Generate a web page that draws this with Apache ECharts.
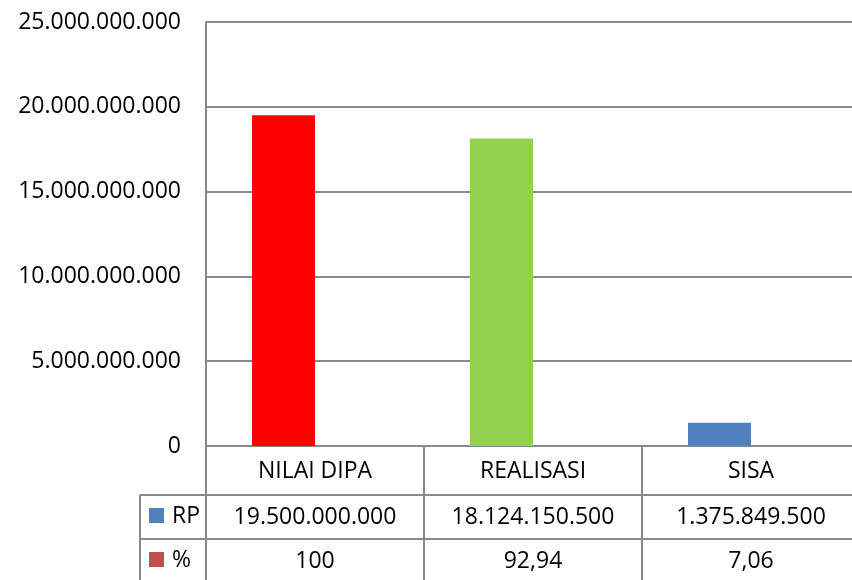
<!DOCTYPE html>
<html>
<head>
<meta charset="utf-8">
<script src="https://cdn.jsdelivr.net/npm/echarts@6/dist/echarts.min.js"></script>
<style>
  html, body { margin: 0; padding: 0; background: #fff; }
  #chart { width: 852px; height: 580px; }
</style>
</head>
<body>
<div id="chart"></div>
<script>
const categories = ['NILAI DIPA', 'REALISASI', 'SISA'];
const seriesNames = ['RP', '%'];
const rpValues = [19500000000, 18124150500, 1375849500];
const pctValues = [100, 92.94, 7.06];
const barColors = ['#FF0000', '#92D050', '#4F81BD'];
const seriesColors = ['#4F81BD', '#C0504D'];
const yTicks = { min: 0, max: 25000000000, interval: 5000000000 };

const LINE = '#898989';
const FONT = 'Open Sans';

// titik ribuan, koma desimal
const fmtRp = v => String(Math.round(v)).replace(/\B(?=(\d{3})+(?!\d))/g, '.');
const fmtPct = v => String(v).replace('.', ',');

const chart = echarts.init(document.getElementById('chart'));

// garis tabel data di bawah sumbu
const tableLines = [
  [140, 495, 852, 495],
  [140, 539, 852, 539],
  [140, 495, 140, 580]
].map(p => ({
  type: 'line',
  shape: { x1: p[0], y1: p[1], x2: p[2], y2: p[3] },
  style: { stroke: LINE, lineWidth: 2 },
  silent: true
}));

// kunci legenda di kolom kiri tabel
const rowHeaders = [];
seriesNames.forEach((name, i) => {
  const cy = 516 + i * 44;
  rowHeaders.push({
    type: 'rect',
    shape: { x: 149, y: cy - 8, width: 15, height: 15 },
    style: { fill: seriesColors[i] },
    silent: true
  });
  rowHeaders.push({
    type: 'text',
    x: 172,
    y: cy,
    style: { text: name, fontFamily: FONT, fontSize: 23, fill: '#000', verticalAlign: 'middle' },
    silent: true
  });
});

const labelStyle = { fontFamily: FONT, fontSize: 23, color: '#000' };

const tableAxis = (data, offset) => ({
  type: 'category',
  gridIndex: 0,
  position: 'bottom',
  offset: offset,
  data: data,
  axisLine: { show: false },
  axisTick: { show: false },
  axisLabel: Object.assign({ margin: 22, verticalAlign: 'middle', interval: 0 }, labelStyle)
});

chart.setOption({
  animation: false,
  textStyle: { fontFamily: FONT },
  grid: { left: 206, top: 22, width: 654, bottom: 134, containLabel: false, outerBoundsMode: 'none' },
  xAxis: [
    {
      type: 'category',
      data: categories,
      axisLine: { lineStyle: { color: LINE, width: 2 } },
      axisTick: { show: true, length: 140, lineStyle: { color: LINE, width: 2 } },
      axisLabel: Object.assign({ margin: 25, verticalAlign: 'middle', interval: 0 }, labelStyle)
    },
    tableAxis(rpValues.map(fmtRp), 49),
    tableAxis(pctValues.map(fmtPct), 93)
  ],
  yAxis: {
    type: 'value',
    min: yTicks.min,
    max: yTicks.max,
    interval: yTicks.interval,
    axisLine: { show: true, lineStyle: { color: LINE, width: 2 } },
    axisTick: { show: false },
    splitLine: { lineStyle: { color: LINE, width: 2 } },
    axisLabel: Object.assign({ margin: 25, formatter: fmtRp }, labelStyle)
  },
  series: [
    {
      name: seriesNames[0],
      type: 'bar',
      barWidth: 63,
      barGap: '0%',
      itemStyle: { color: seriesColors[0] },
      data: rpValues.map((v, i) => ({ value: v, itemStyle: { color: barColors[i] } }))
    },
    {
      name: seriesNames[1],
      type: 'bar',
      barWidth: 63,
      barGap: '0%',
      itemStyle: { color: seriesColors[1] },
      data: pctValues
    }
  ],
  graphic: tableLines.concat(rowHeaders)
});
</script>
</body>
</html>
